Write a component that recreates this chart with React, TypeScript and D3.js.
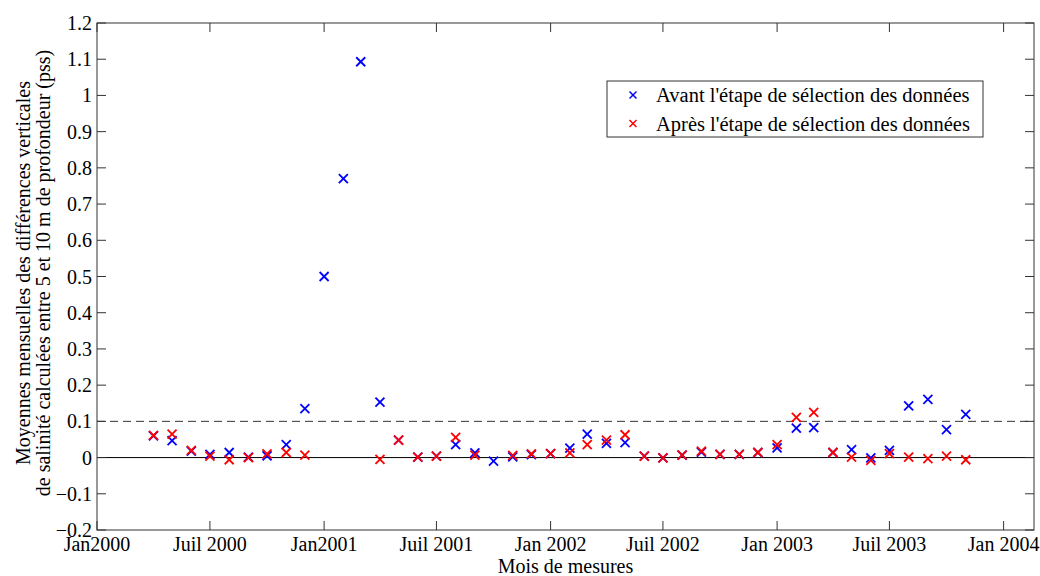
import React from "react";
import * as d3 from "d3";

// monthly means (first of each month), Apr 2000 -> Nov 2003
const months = [
  "2000-04", "2000-05", "2000-06", "2000-07", "2000-08", "2000-09", "2000-10", "2000-11", "2000-12",
  "2001-01", "2001-02", "2001-03", "2001-04", "2001-05", "2001-06", "2001-07", "2001-08", "2001-09", "2001-10", "2001-11", "2001-12",
  "2002-01", "2002-02", "2002-03", "2002-04", "2002-05", "2002-06", "2002-07", "2002-08", "2002-09", "2002-10", "2002-11", "2002-12",
  "2003-01", "2003-02", "2003-03", "2003-04", "2003-05", "2003-06", "2003-07", "2003-08", "2003-09", "2003-10", "2003-11",
];

const avant: (number | null)[] = [
  0.06, 0.047, 0.018, 0.009, 0.014, 0.001, 0.005, 0.036, 0.135,
  0.5, 0.77, 1.093, 0.153, 0.048, 0.001, 0.004, 0.036, 0.013, -0.01, 0.002, 0.008,
  0.011, 0.026, 0.065, 0.039, 0.041, 0.004, -0.001, 0.007, 0.015, 0.009, 0.009, 0.014,
  0.027, 0.081, 0.083, 0.014, 0.022, -0.001, 0.02, 0.143, 0.161, 0.077, 0.119,
];

const apres: (number | null)[] = [
  0.061, 0.065, 0.02, 0.004, -0.006, 0.0, 0.01, 0.014, 0.007,
  null, null, null, -0.005, 0.048, 0.001, 0.004, 0.056, 0.007, null, 0.006, 0.01,
  0.011, 0.013, 0.036, 0.048, 0.063, 0.004, -0.001, 0.007, 0.018, 0.009, 0.009, 0.014,
  0.036, 0.111, 0.125, 0.014, 0.001, -0.008, 0.011, 0.001, -0.003, 0.004, -0.006,
];

const xTickLabels = [
  "Jan2000", "Juil 2000", "Jan2001", "Juil 2001", "Jan 2002",
  "Juil 2002", "Jan 2003", "Juil 2003", "Jan 2004",
];
const yTicks = [-0.2, -0.1, 0, 0.1, 0.2, 0.3, 0.4, 0.5, 0.6, 0.7, 0.8, 0.9, 1, 1.1, 1.2];

const seriesNames = [
  "Avant l'étape de sélection des données",
  "Après l'étape de sélection des données",
];
const seriesColors = ["#0000ff", "#ff0000"];

const W = 1040;
const H = 576;
const M = { left: 97, right: 1034, top: 23, bottom: 530 };
const FONT = "Liberation Serif, Times New Roman, serif";
const FS = 20;

const parseMonth = (s: string) => {
  const [y, m] = s.split("-").map(Number);
  return new Date(Date.UTC(y, m - 1, 1));
};

const Cross = ({ x, y, r, color, w }: { x: number; y: number; r: number; color: string; w: number }) => (
  <g stroke={color} strokeWidth={w}>
    <line x1={x - r} y1={y - r} x2={x + r} y2={y + r} />
    <line x1={x - r} y1={y + r} x2={x + r} y2={y - r} />
  </g>
);

export default function App() {
  const x = d3
    .scaleUtc()
    .domain([new Date(Date.UTC(2000, 0, 1)), new Date(Date.UTC(2004, 1, 19))])
    .range([M.left, M.right]);
  const y = d3.scaleLinear().domain([-0.2, 1.2]).range([M.bottom, M.top]);

  const xTicks = d3.utcMonth.every(6)!.range(
    new Date(Date.UTC(2000, 0, 1)),
    new Date(Date.UTC(2004, 0, 2))
  );

  const series = [avant, apres];
  const txt = { fontFamily: FONT, fontSize: FS, fill: "#000" };
  const midY = 273;

  return (
    <svg
      width={W}
      height={H}
      style={{ position: "absolute", left: 0, top: 0, background: "#fff" }}
    >
      <rect width={W} height={H} fill="#fff" />

      {/* reference lines */}
      <line x1={M.left} x2={M.right} y1={y(0)} y2={y(0)} stroke="#000" strokeWidth={1} />
      <line
        x1={M.left}
        x2={M.right}
        y1={y(0.1)}
        y2={y(0.1)}
        stroke="#333"
        strokeWidth={1}
        strokeDasharray="8,5"
      />

      {/* axes box */}
      <rect
        x={M.left}
        y={M.top}
        width={M.right - M.left}
        height={M.bottom - M.top}
        fill="none"
        stroke="#333"
        strokeWidth={1}
      />

      {/* y ticks */}
      {yTicks.map((t) => (
        <g key={t}>
          <line x1={M.left} x2={M.left + 9} y1={y(t)} y2={y(t)} stroke="#333" />
          <line x1={M.right} x2={M.right - 9} y1={y(t)} y2={y(t)} stroke="#333" />
          <text x={M.left - 5} y={y(t)} dy="0.35em" textAnchor="end" style={txt}>
            {d3.format("")(t)}
          </text>
        </g>
      ))}

      {/* x ticks */}
      {xTicks.map((t, i) => (
        <g key={i}>
          <line x1={x(t)} x2={x(t)} y1={M.bottom} y2={M.bottom - 9} stroke="#333" />
          <line x1={x(t)} x2={x(t)} y1={M.top} y2={M.top + 9} stroke="#333" />
          <text x={x(t)} y={551} textAnchor="middle" style={txt}>
            {xTickLabels[i]}
          </text>
        </g>
      ))}

      {/* points */}
      {series.map((vals, si) =>
        vals.map((v, i) =>
          v === null ? null : (
            <Cross
              key={`${si}-${i}`}
              x={x(parseMonth(months[i]))}
              y={y(v)}
              r={4.5}
              color={seriesColors[si]}
              w={1.8}
            />
          )
        )
      )}

      {/* legend */}
      <rect x={607} y={81} width={376} height={56} fill="#fff" stroke="#333" strokeWidth={1} />
      {seriesNames.map((name, i) => (
        <g key={name}>
          <Cross x={633} y={95 + i * 28.5} r={3.5} color={seriesColors[i]} w={1.5} />
          <text x={656} y={95 + i * 28.5} dy="0.35em" style={{ ...txt, fontSize: 20.5 }}>
            {name}
          </text>
        </g>
      ))}

      {/* axis titles */}
      <text
        transform={`translate(30, ${midY}) rotate(-90)`}
        textAnchor="middle"
        style={txt}
      >
        Moyennes mensuelles des différences verticales
      </text>
      <text
        transform={`translate(50, ${midY}) rotate(-90)`}
        textAnchor="middle"
        style={txt}
      >
        de salinité calculées entre 5 et 10 m de profondeur (pss)
      </text>
      <text x={(M.left + M.right) / 2} y={573} textAnchor="middle" style={txt}>
        Mois de mesures
      </text>
    </svg>
  );
}
